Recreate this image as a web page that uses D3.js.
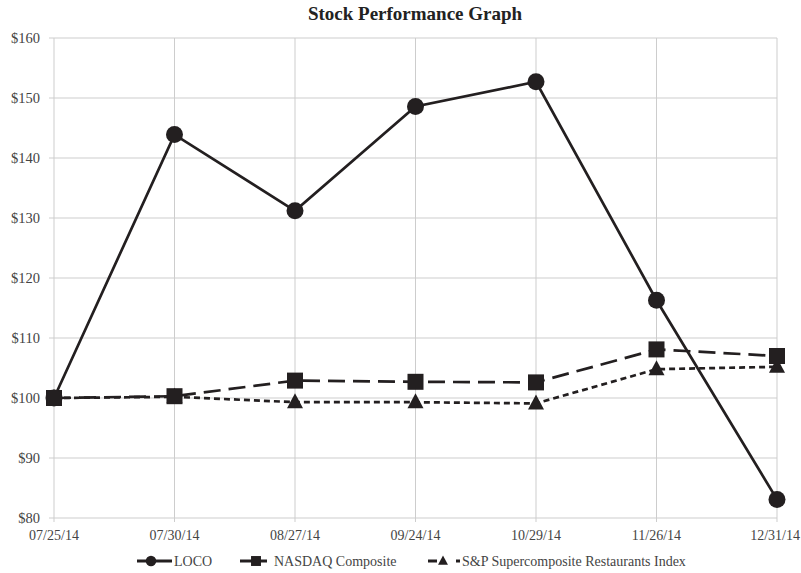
<!DOCTYPE html>
<html>
<head>
<meta charset="utf-8">
<script src="https://cdn.jsdelivr.net/npm/d3@7"></script>
<style>
  body { margin: 0; background: #fff; }
  svg { font-family: "Liberation Serif", "Times New Roman", serif; }
</style>
</head>
<body>
<script>
var width = 801, height = 573;

// data
var dates = ["07/25/14", "07/30/14", "08/27/14", "09/24/14", "10/29/14", "11/26/14", "12/31/14"];
var loco = [100, 143.9, 131.2, 148.6, 152.7, 116.3, 83.1];
var nasdaq = [100, 100.3, 102.9, 102.7, 102.6, 108.1, 107.0];
var snp = [100, 100.2, 99.3, 99.3, 99.1, 104.8, 105.2];
var yTicks = [80, 90, 100, 110, 120, 130, 140, 150, 160];

var series = [
  {name: "LOCO", values: loco, dash: null, marker: "circle"},
  {name: "NASDAQ Composite", values: nasdaq, dash: "17,8", marker: "square"},
  {name: "S&P Supercomposite Restaurants Index", values: snp, dash: "6,4", marker: "triangle"}
];

var margin = {top: 38, right: 24, bottom: 55, left: 54};

var x = d3.scalePoint()
    .domain(dates)
    .range([margin.left, width - margin.right]);

var y = d3.scaleLinear()
    .domain([80, 160])
    .range([height - margin.bottom, margin.top]);

var svg = d3.select("body").append("svg")
    .attr("width", width)
    .attr("height", height);

svg.append("text")
    .attr("x", 415)
    .attr("y", 20)
    .attr("text-anchor", "middle")
    .style("font-size", "19px")
    .style("font-weight", "bold")
    .attr("fill", "#222")
    .text("Stock Performance Graph");

// grid
svg.append("g")
    .attr("stroke", "#cdcdcd")
    .attr("stroke-width", 1)
  .selectAll("line")
  .data(yTicks)
  .join("line")
    .attr("x1", margin.left - 5)
    .attr("x2", width - margin.right)
    .attr("y1", d => y(d))
    .attr("y2", d => y(d));

svg.append("g")
    .attr("stroke", "#cdcdcd")
    .attr("stroke-width", 1)
  .selectAll("line")
  .data(dates)
  .join("line")
    .attr("x1", d => x(d))
    .attr("x2", d => x(d))
    .attr("y1", y(80) + 4)
    .attr("y2", y(160));

// y labels
svg.append("g")
  .selectAll("text")
  .data(yTicks)
  .join("text")
    .attr("x", 40)
    .attr("y", d => y(d) + 5)
    .attr("text-anchor", "end")
    .style("font-size", "14.5px")
    .attr("fill", "#444")
    .text(d => "$" + d);

// x labels (last one kept inside the frame)
var last = dates[dates.length - 1];
svg.append("g")
  .selectAll("text")
  .data(dates)
  .join("text")
    .attr("x", d => d == last ? width - 1 : x(d))
    .attr("y", y(80) + 22)
    .attr("text-anchor", d => d == last ? "end" : "middle")
    .style("font-size", "14px")
    .attr("fill", "#444")
    .text(d => d);

var line = d3.line()
    .x((d, i) => x(dates[i]))
    .y(d => y(d));

function drawMarker(g, type, cx, cy, s) {
  if (type == "circle") {
    g.append("circle").attr("cx", cx).attr("cy", cy).attr("r", 8.5 * s);
  } else if (type == "square") {
    g.append("rect").attr("x", cx - 8 * s).attr("y", cy - 8 * s).attr("width", 16 * s).attr("height", 16 * s);
  } else {
    g.append("path").attr("d", `M${cx},${cy - 9 * s}L${cx + 8 * s},${cy + 6 * s}L${cx - 8 * s},${cy + 6 * s}Z`);
  }
}

// draw lower series first so LOCO sits on top
series.slice().reverse().forEach(s => {
  svg.append("path")
      .datum(s.values)
      .attr("fill", "none")
      .attr("stroke", "#231f20")
      .attr("stroke-width", 2.7)
      .attr("stroke-dasharray", s.dash)
      .attr("d", line);
  var g = svg.append("g").attr("fill", "#231f20");
  s.values.forEach((v, i) => drawMarker(g, s.marker, x(dates[i]), y(v), 1));
});

// legend
var legendItems = [
  {x0: 137, x1: 172, mx: 151, tx: 174, dash: null},
  {x0: 240, x1: 267, mx: 256, tx: 274, dash: null},
  {x0: 428, x1: 460, mx: 443, tx: 462, dash: "9,19,4,10"}
];
var lg = svg.append("g");
series.forEach((s, i) => {
  var it = legendItems[i];
  var ly = 561;
  lg.append("line")
      .attr("x1", it.x0).attr("x2", it.x1)
      .attr("y1", ly).attr("y2", ly)
      .attr("stroke", "#231f20")
      .attr("stroke-width", 3)
      .attr("stroke-dasharray", it.dash);
  var g = lg.append("g").attr("fill", "#231f20");
  drawMarker(g, s.marker, it.mx, ly, 0.62);
  lg.append("text")
      .attr("x", it.tx)
      .attr("y", ly + 5)
      .style("font-size", "14px")
      .attr("fill", "#444")
      .text(s.name);
});
</script>
</body>
</html>
